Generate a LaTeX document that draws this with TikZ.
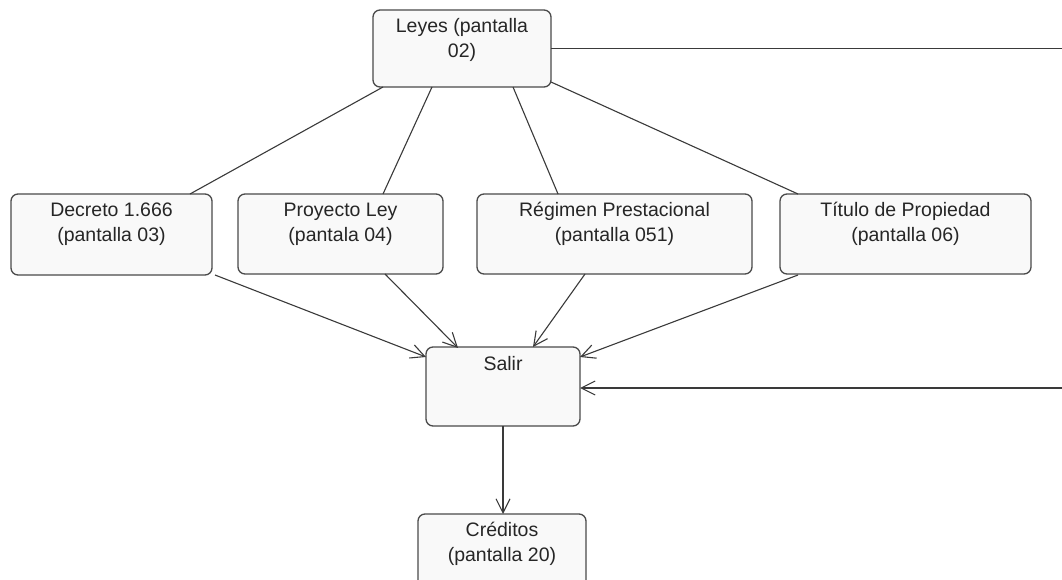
\documentclass[tikz,border=0pt]{standalone}
\usepackage{fontspec}
\setmainfont{Liberation Sans}
\usetikzlibrary{arrows.meta,calc}
\definecolor{edgegray}{HTML}{3A3A3A}
\definecolor{boxline}{HTML}{4A4A4A}
\definecolor{boxfill}{HTML}{F9F9F9}
\begin{document}
\begin{tikzpicture}[x=1pt,y=-1pt,
  screen/.style={draw=boxline, fill=boxfill, line width=1.3pt, rounded corners=7pt,
                 inner sep=0pt, outer sep=0pt},
  caption/.style={anchor=north, inner sep=0pt, align=center,
                  font=\fontsize{19.5}{25.5}\selectfont, text=black!85},
  link/.style={draw=edgegray, line width=1.1pt},
  flow/.style={link, -{Straight Barb[length=14pt,width=14pt,line width=1.1pt]}}]
\useasboundingbox (0,0) rectangle (1062,580);
\clip (0,0) rectangle (1062,580);
\fill[white] (0,0) rectangle (1062,580);
\coordinate (edge) at (1062,0);

% screens
\node[screen, minimum width=178pt, minimum height=77pt] (leyes) at (462,48.5) {};
\node[screen, minimum width=201pt, minimum height=81pt] (dec) at (111.5,234.5) {};
\node[screen, minimum width=205pt, minimum height=80pt] (proy) at (340.5,234) {};
\node[screen, minimum width=275pt, minimum height=80pt] (reg) at (614.5,234) {};
\node[screen, minimum width=251pt, minimum height=80pt] (tit) at (905.5,234) {};
\node[screen, minimum width=154pt, minimum height=79pt] (salir) at (503,386.5) {};
\node[screen, minimum width=168pt, minimum height=86pt] (cred) at (502,557) {};

% captions
\node[caption] (leyesT) at ([yshift=-4pt]leyes.north) {\strut Leyes (pantalla\\02)};
\node[caption] (decT) at ([yshift=-4pt]dec.north) {\strut Decreto 1.666\\(pantalla 03)};
\node[caption] (proyT) at ([yshift=-4pt]proy.north) {\strut Proyecto Ley\\(pantala 04)};
\node[caption] (regT) at ([yshift=-4pt]reg.north) {\strut Régimen Prestacional\\(pantalla 051)};
\node[caption] (titT) at ([yshift=-4pt]tit.north) {\strut Título de Propiedad\\(pantalla 06)};
\node[caption] (salirT) at ([yshift=-5pt]salir.north) {\strut Salir};
\node[caption] (credT) at ([yshift=-4pt]cred.north) {\strut Créditos\\(pantalla 20)};

% menu links from Leyes
\draw[link] ($(leyes.south west)+(10,0)$) -- ($(dec.north west)+(179,0)$);
\draw[link] ($(leyes.south west)+(59,0)$) -- ($(proy.north west)+(145,0)$);
\draw[link] ($(leyes.south west)+(140,0)$) -- ($(reg.north west)+(81,0)$);
\draw[link] ($(leyes.south east)+(0,-5)$) -- ($(tit.north west)+(18,0)$);
\draw[link] (leyes.east) -- (leyes.east -| edge);

% exits to Salir
\draw[flow] ($(dec.south east)+(3,0)$) -- ($(salir.north west)+(0,10)$);
\draw[flow] ($(proy.south west)+(147,0)$) -- ($(salir.north west)+(32,1)$);
\draw[flow] ($(reg.south west)+(108,0)$) -- ($(salir.north west)+(107,0)$);
\draw[flow] ($(tit.south west)+(18,1)$) -- ($(salir.north east)+(0,10)$);
\draw[flow] ($(edge |- salir.east)+(0,1.5)$) -- ($(salir.east)+(0,1.5)$);
\draw[flow] (salir.south) -- (salir.south |- cred.north);
\end{tikzpicture}
\end{document}
